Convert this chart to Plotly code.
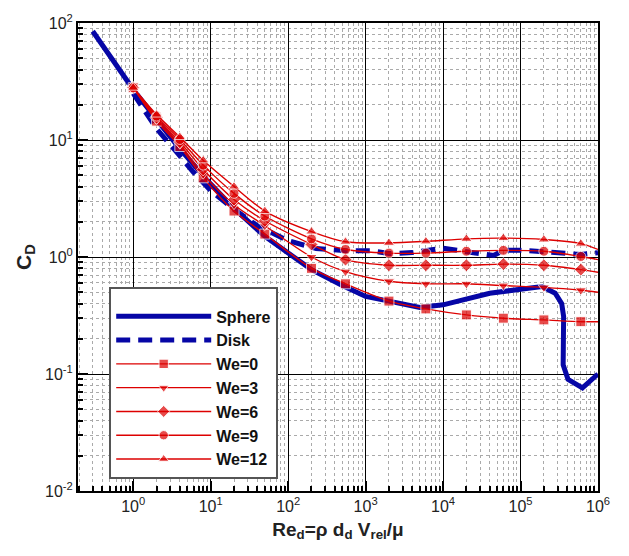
import plotly.graph_objects as go

# ---- data ----
sphere_re = [0.3, 0.5, 1, 2, 4, 10, 20, 50, 100, 200, 500, 1000, 2000, 5000,
             1e4, 2e4, 4e4, 1e5, 1.9e5, 2.8e5, 3.4e5, 3.6e5, 3.55e5, 3.55e5,
             4.1e5, 6.3e5, 1e6]
sphere_cd = [85, 52, 27, 15, 8.4, 4.2, 2.6, 1.5, 1.08, 0.78, 0.57, 0.46, 0.42, 0.37,
             0.39, 0.44, 0.49, 0.53, 0.56, 0.49, 0.40, 0.31, 0.20, 0.12,
             0.09, 0.076, 0.10]

disk_re = [1, 2, 4, 6, 10, 20, 40, 64, 100, 230, 570, 1200, 2000, 4000,
           1e4, 2e4, 4.5e4, 6e4, 1e5, 2e5, 6e5, 1e6]
disk_cd = [25, 12.5, 7.3, 5.3, 3.7, 2.55, 1.85, 1.57, 1.38, 1.18, 1.13, 1.13, 1.07, 1.09,
           1.19, 1.11, 1.03, 1.14, 1.14, 1.11, 1.05, 1.09]

we_re = [1, 2, 4, 8, 20, 50, 200, 550, 2000, 6000, 2e4, 6e4, 2e5, 6e5, 1e6]
we_labels = ["We=0", "We=3", "We=6", "We=9", "We=12"]
we0 = [28, 14.5, 8.8, 4.75, 2.47, 1.57, 0.80, 0.59, 0.42, 0.36, 0.32, 0.30, 0.29, 0.28, 0.28]
we3 = [28, 15.0, 9.2, 5.1, 2.8, 1.85, 1.00, 0.75, 0.62, 0.59, 0.59, 0.57, 0.55, 0.52, 0.50]
we6 = [28, 15.5, 9.6, 5.6, 3.1, 2.04, 1.28, 0.95, 0.85, 0.85, 0.85, 0.87, 0.85, 0.78, 0.74]
we9 = [28, 16.0, 10.1, 6.1, 3.5, 2.24, 1.43, 1.16, 1.08, 1.08, 1.12, 1.14, 1.12, 1.01, 0.95]
we12 = [28, 16.5, 10.6, 6.7, 4.0, 2.47, 1.65, 1.35, 1.32, 1.36, 1.43, 1.45, 1.41, 1.30, 1.16]
we_series = [we0, we3, we6, we9, we12]
we_symbols = ["square", "triangle-down", "diamond", "circle", "triangle-up"]

x_tickvals = [1, 10, 100, 1e3, 1e4, 1e5, 1e6]
x_ticktext = ["10<sup>0</sup>", "10<sup>1</sup>", "10<sup>2</sup>", "10<sup>3</sup>",
              "10<sup>4</sup>", "10<sup>5</sup>", "10<sup>6</sup>"]
y_tickvals = [0.01, 0.1, 1, 10, 100]
y_ticktext = ["10<sup>-2</sup>", "10<sup>-1</sup>", "10<sup>0</sup>", "10<sup>1</sup>", "10<sup>2</sup>"]

BLUE = "#0606a6"
RED = "#dd0000"
FONT = "Liberation Sans, Arial, Helvetica, sans-serif"

fig = go.Figure()
fig.add_trace(go.Scatter(x=sphere_re, y=sphere_cd, mode="lines", name="Sphere",
                         line=dict(color=BLUE, width=5)))
fig.add_trace(go.Scatter(x=disk_re, y=disk_cd, mode="lines", name="Disk",
                         line=dict(color=BLUE, width=5, dash="14px,8px")))
for lab, ys, sym in zip(we_labels, we_series, we_symbols):
    sizes = [10] * (len(we_re) - 1) + [0]
    fig.add_trace(go.Scatter(x=we_re, y=ys, mode="lines+markers", name=lab,
                             line=dict(color=RED, width=1.4, shape="spline", smoothing=0.8),
                             marker=dict(symbol=sym, size=sizes, color=RED)))

axis_common = dict(
    type="log", showline=True, linecolor="black", linewidth=2, mirror=True,
    showgrid=True, gridcolor="black", gridwidth=1,
    ticks="inside", ticklen=10, tickwidth=1.5, tickcolor="black",
    tickfont=dict(family=FONT, size=16, color="#222"),
    tickmode="array",
    minor=dict(ticks="inside", ticklen=5, tickcolor="black", dtick="D1",
               showgrid=True, gridcolor="#aaaaaa", griddash="dot", gridwidth=1),
    zeroline=False,
)

fig.update_xaxes(**axis_common, range=[-0.713, 6], tickvals=x_tickvals, ticktext=x_ticktext,
                 title=dict(text="<b>Re<sub>d</sub>=ρ d<sub>d</sub> V<sub>rel</sub>/μ</b>",
                            font=dict(family=FONT, size=19, color="#222"), standoff=8))
fig.update_yaxes(**axis_common, range=[-2, 2], tickvals=y_tickvals, ticktext=y_ticktext,
                 title=dict(text="<b>C<sub>D</sub></b>",
                            font=dict(family=FONT, size=21, color="#222"), standoff=8))

fig.update_layout(
    width=629, height=556,
    margin=dict(l=78, r=31, t=16, b=65),
    plot_bgcolor="white", paper_bgcolor="white",
    font=dict(family=FONT),
    legend=dict(x=0.06, y=0.436, xanchor="left", yanchor="top",
                bgcolor="white", bordercolor="#555", borderwidth=2,
                font=dict(family=FONT, size=16, color="#111", weight="bold"),
                itemwidth=95, tracegroupgap=0,
                title=dict(text=" ", font=dict(size=8))),
    showlegend=True,
)

fig.write_html("out.html")
